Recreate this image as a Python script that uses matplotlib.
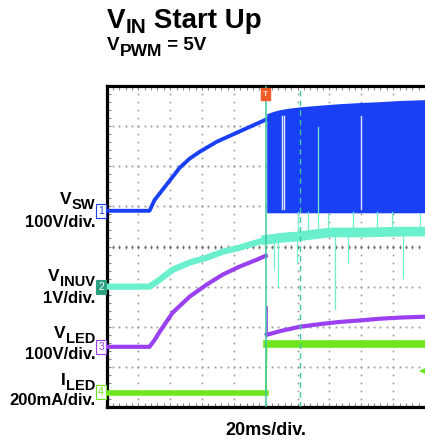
import numpy as np
import matplotlib.pyplot as plt
from matplotlib.ticker import MultipleLocator

plt.rcParams['font.family'] = ['Liberation Sans', 'DejaVu Sans']

# time base 20ms/div, trigger at t = 0 (ms)
# CH1 VSW 100V/div
vsw_t = [-100, -73, -69.8, -62.3, -54.1, -47.8, -41.5, -30.8, -20.8, -10.1, 0]
vsw_v = [0, 0, 27, 65, 107, 130, 147, 172, 190, 209, 227]
# switching envelope after start up
sw_t = [0.6, 5, 8.8, 15, 21.4, 30, 46.5, 60, 71.7, 85, 100]
sw_top = [242, 248, 252, 256, 259, 262, 267, 270, 272, 275, 277]
sw_gap_t = [10.4, 11.6, 59.7]

# CH2 VINUV 1V/div
uv_t = [-100, -73, -66.7, -58.5, -47.8, -37.1, -27.0, -16.4, -5.7, 0]
uv_v = [0, 0, 0.17, 0.42, 0.60, 0.72, 0.87, 0.97, 1.10, 1.17]
uv2_t = [0.6, 10, 20, 30, 41, 52, 62, 73, 83, 100]
uv2_v = [1.17, 1.22, 1.25, 1.30, 1.35, 1.35, 1.35, 1.36, 1.37, 1.37]
spike_dn_t = [5.0, 7.5, 19.5, 43.4, 51.6, 86.2]
spike_dn_v = [0.42, 0.0, 0.6, -0.57, 0.6, 0.22]
spike_up_t = [20.0, 26.4, 32.7, 39.0, 55.0, 70.0, 79.0, 97.0]
spike_up_v = [1.85, 1.87, 3.97, 1.80, 1.85, 1.87, 1.85, 1.80]

# CH3 VLED 100V/div
led_t = [-100, -73, -69.8, -66.7, -58.5, -47.8, -37.1, -27.0, -16.4, -5.7, 0]
led_v = [0, 0, 17, 37, 85, 125, 155, 180, 200, 217, 227]
led2_t = [0.6, 10, 21.4, 35, 46.5, 60, 71.7, 85, 100]
led2_v = [30, 40, 50, 57, 62, 66, 70, 73, 75]

# CH4 ILED 200mA/div
iled_t = [-100, 0, 0.6, 100]
iled_i = [0, 0, 244, 244]

# channel offsets (div) and scales
off1, sc1 = 4.89, 100.0
off2, sc2 = 3.0, 1.0
off3, sc3 = 1.5, 100.0
off4, sc4 = 0.35, 200.0

c_blue = '#1a40f5'
c_teal = '#6af0cc'
c_purple = '#9a40f0'
c_green = '#6ee61e'
c_cursor = '#3cc8a0'

W, H = 425, 443
fig = plt.figure(figsize=(W / 100, H / 100), dpi=100)
ax = fig.add_axes([106.5 / W, 1 - 407 / H, 318.5 / W, 321 / H])
ax.set_xlim(-100, 100)
ax.set_ylim(0, 8)

# graticule
for gx in np.arange(-80, 100, 20):
    if gx == 0:
        continue
    yy = np.arange(0.2, 8, 0.2)
    ax.plot(np.full(len(yy), gx), yy, 's', color='#9a9a9a', ms=1.2, mew=0, zorder=1)
for gy in range(1, 8):
    xx = np.arange(-96, 100, 4)
    col = '#222222' if gy == 4 else '#9a9a9a'
    ax.plot(xx, np.full(len(xx), gy), 's', color=col, ms=1.3, mew=0, zorder=1)
xx = np.arange(-96, 100, 4)
ax.plot(xx, np.full(len(xx), 4), '|', color='#777777', ms=3, mew=0.6, zorder=1)

# CH1
ax.plot(vsw_t, off1 + np.array(vsw_v) / sc1, color=c_blue, lw=2.8, zorder=3)
ax.fill_between(sw_t, off1 - 0.05, off1 + np.array(sw_top) / sc1,
                color=c_blue, lw=0, zorder=3)
for g in sw_gap_t:
    ax.plot([g, g], [off1 + 0.05, off1 + 2.35], color='#dfe6ff', lw=1.0, zorder=3.1)

# CH2
ax.plot(uv_t, off2 + np.array(uv_v) / sc2, color=c_teal, lw=4.5, zorder=3.2)
ax.plot(uv2_t, off2 + np.array(uv2_v) / sc2, color=c_teal, lw=7, zorder=3.2)
for t, v in zip(spike_dn_t, spike_dn_v):
    ax.plot([t, t], [off2 + 1.25, off2 + v / sc2], color=c_teal, lw=0.9, zorder=3.2)
for t, v in zip(spike_up_t, spike_up_v):
    ax.plot([t, t], [off2 + 1.35, off2 + v / sc2], color=c_teal, lw=0.9, zorder=3.2)

# CH3
ax.plot(led_t, off3 + np.array(led_v) / sc3, color=c_purple, lw=3, zorder=3.3)
ax.plot(led2_t, off3 + np.array(led2_v) / sc3, color=c_purple, lw=3, zorder=3.3)
ax.plot([0.6, 0.6], [off3 + 0.3, off3 + 1.0], color=c_purple, lw=1.2, zorder=3.3)

# CH4
ax.plot(iled_t[:2], off4 + np.array(iled_i[:2]) / sc4, color=c_green, lw=4, zorder=3.4)
ax.plot(iled_t[1:3], off4 + np.array(iled_i[1:3]) / sc4, color=c_green, lw=1.2, zorder=3.4)
ax.plot(iled_t[2:], off4 + np.array(iled_i[2:]) / sc4, color=c_green, lw=5.5, zorder=3.4)
ax.plot([98], [0.9], marker='<', color=c_green, ms=5, mew=0, clip_on=False, zorder=5)

# cursors
ax.axvline(0, color=c_cursor, lw=1.1, zorder=4)
ax.axvline(21.4, color=c_cursor, lw=1.0, ls=(0, (4, 3)), zorder=4)

# trigger marker
ax.text(0, 7.8, 'T', ha='center', va='center', fontsize=6, color='#ffe0d0',
        fontweight='bold', zorder=6,
        bbox=dict(boxstyle='square,pad=0.25', fc='#f05a28', ec='#f05a28'))

# channel markers
marks = [('1', off1, 'white', c_blue, c_blue),
         ('2', off2, '#2ca080', '#2ca080', 'white'),
         ('3', off3, 'white', c_purple, c_purple),
         ('4', off4 + 0.02, 'white', c_green, c_green)]
for lab, y, fc, ec, tc in marks:
    ax.text(-103.4, y, lab, ha='center', va='center', fontsize=7.5, color=tc,
            clip_on=False, zorder=6,
            bbox=dict(boxstyle='square,pad=0.2', fc=fc, ec=ec, lw=0.8))

# frame
for s in ['left', 'top', 'bottom']:
    ax.spines[s].set_linewidth(2.3)
ax.spines['right'].set_visible(False)
ax.xaxis.set_major_locator(MultipleLocator(20))
ax.xaxis.set_minor_locator(MultipleLocator(4))
ax.yaxis.set_major_locator(MultipleLocator(1))
ax.yaxis.set_minor_locator(MultipleLocator(0.2))
ax.tick_params(which='both', direction='in', length=3, width=0.8, color='#888888',
               top=True, right=False, labelbottom=False, labelleft=False)

renderer = fig.canvas.get_renderer()


def sub_text(x, yb, parts, ha='left'):
    # parts: (string, fontsize, baseline drop in px)
    objs = []
    total = 0
    for s, fs, drop in parts:
        t = fig.text(0, 0, s, fontsize=fs, fontweight='bold', va='baseline')
        w = t.get_window_extent(renderer).width
        objs.append((t, drop, w))
        total += w
    x0 = x - total if ha == 'right' else x
    for t, drop, w in objs:
        t.set_position((x0 / W, 1 - (yb + drop) / H))
        x0 += w


# texts
sub_text(107, 28, [('V', 20, 0), ('IN', 15, 5), (' Start Up', 20, 0)])
sub_text(107, 50, [('V', 13.5, 0), ('PWM', 12.5, 6), (' = 5V', 13.5, 0)])
fig.text(266 / W, 1 - 435 / H, '20ms/div.', fontsize=13, fontweight='bold',
         ha='center', va='baseline')

sub_text(95, 204, [('V', 12.5, 0), ('SW', 10.5, 5)], ha='right')
sub_text(95, 281, [('V', 12.5, 0), ('INUV', 10.5, 5)], ha='right')
sub_text(95, 338, [('V', 12.5, 0), ('LED', 10.5, 5)], ha='right')
sub_text(95, 385, [('I', 12.5, 0), ('LED', 10.5, 5)], ha='right')
for s, yb in [('100V/div.', 227), ('1V/div.', 303), ('100V/div.', 359),
              ('200mA/div.', 405)]:
    fig.text(95 / W, 1 - yb / H, s, fontsize=12, fontweight='bold',
             ha='right', va='baseline')

fig.savefig('out.png', dpi=100)
